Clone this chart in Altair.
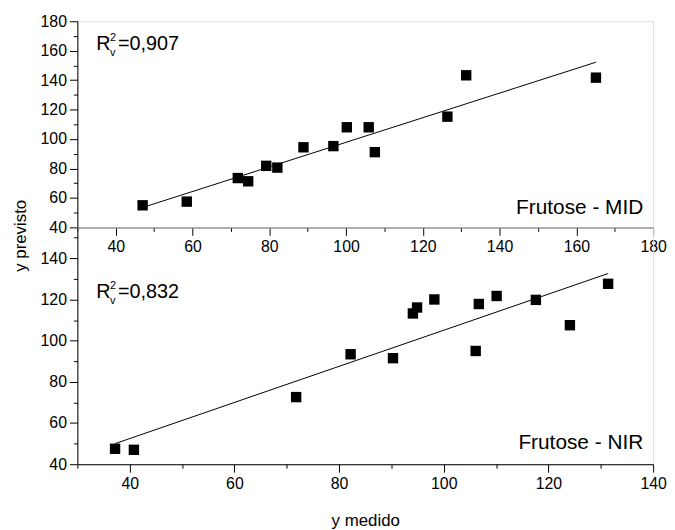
import altair as alt
import pandas as pd

# Frutose - MID (top panel)
mid_medido = [47, 58.5, 71.8, 74.5, 79.2, 82.1, 88.9, 96.7, 100.2, 105.9, 107.5, 126.4, 131.3, 165.1]
mid_previsto = [55, 57.5, 73.5, 71.3, 81.8, 80.6, 94.4, 95.2, 108, 108, 91.1, 115.2, 143.3, 141.7]
mid_fit_x = [47, 165.1]
mid_fit_y = [53.5, 152.2]

# Frutose - NIR (bottom panel)
nir_medido = [37.2, 40.8, 71.8, 82.2, 90.3, 94.1, 94.9, 98.2, 106.1, 106.7, 110.1, 117.6, 124.1, 131.4]
nir_previsto = [47.5, 47.0, 72.6, 93.4, 91.5, 113.2, 116.1, 120.0, 95.0, 117.8, 121.7, 119.8, 107.5, 127.6]
nir_fit_x = [37.2, 131.4]
nir_fit_y = [50.0, 132.6]

labels_panel = ["Frutose - MID", "Frutose - NIR"]
r2_values = ["=0,907", "=0,832"]

# tick values
top_x_major = [40, 60, 80, 100, 120, 140, 160, 180]
top_x_minor = [30, 50, 70, 90, 110, 130, 150, 170]
top_y_major = [40, 60, 80, 100, 120, 140, 160, 180]
top_y_minor = [50, 70, 90, 110, 130, 150, 170]
bot_x_major = [40, 60, 80, 100, 120, 140]
bot_x_minor = [30, 50, 70, 90, 110, 130]
bot_y_major = [40, 60, 80, 100, 120, 140]
bot_y_minor = [50, 70, 90, 110, 130, 150]

FONT = "Liberation Sans"
W = 581
H_TOP = 208
H_BOT = 239


def major_axis(values, orient, title=None, **kw):
    args = dict(values=values, orient=orient, tickSize=8, grid=False,
                labelFontSize=16, labelPadding=3, labelFont=FONT, tickColor="black",
                domainColor="black", labelColor="black", labelOverlap=False, labelFlush=False,
                titleFont=FONT, titleFontSize=17, titleFontWeight="normal", titleColor="black",
                title=title)
    args.update(kw)
    return alt.Axis(**args)


def minor_axis(values, orient):
    return alt.Axis(values=values, orient=orient, tickSize=4, grid=False, labels=False,
                    domain=False, tickColor="black", title=None)


def panel(xs, ys, fx, fy, xdom, ydom, h, label, r2, xmaj, xmin, ymaj, ymin,
          xtitle, ytitle, r_y, lab_y, xkw, ykw):
    pts = pd.DataFrame({"x": xs, "y": ys})
    fit = pd.DataFrame({"x": fx, "y": fy})
    xs_ = alt.Scale(domain=xdom, nice=False, zero=False)
    ys_ = alt.Scale(domain=ydom, nice=False, zero=False)
    points = alt.Chart(pts).mark_square(size=110, color="black", opacity=1).encode(
        x=alt.X("x:Q", scale=xs_, axis=major_axis(xmaj, "bottom", xtitle, **xkw)),
        y=alt.Y("y:Q", scale=ys_, axis=major_axis(ymaj, "left", ytitle, **ykw)),
    )
    minor = alt.Chart(pts).mark_point(opacity=0).encode(
        x=alt.X("x:Q", scale=xs_, axis=minor_axis(xmin, "bottom")),
        y=alt.Y("y:Q", scale=ys_, axis=minor_axis(ymin, "left")),
    )
    line = alt.Chart(fit).mark_line(color="black", strokeWidth=1).encode(
        x=alt.X("x:Q", scale=xs_, axis=None), y=alt.Y("y:Q", scale=ys_, axis=None)
    )
    base_t = alt.Chart(pd.DataFrame({"t": [label], "r": [r2]}))
    lab = base_t.mark_text(align="right", baseline="alphabetic", font=FONT, fontSize=21,
                           color="black").encode(text="t:N", x=alt.value(571), y=alt.value(lab_y))
    r = base_t.mark_text(align="left", baseline="alphabetic", font=FONT, fontSize=20,
                         color="black").encode(text=alt.value("R"), x=alt.value(19), y=alt.value(r_y))
    sup = base_t.mark_text(align="left", baseline="alphabetic", font=FONT, fontSize=11,
                           color="black").encode(text=alt.value("2"), x=alt.value(33), y=alt.value(r_y - 9))
    sub = base_t.mark_text(align="left", baseline="alphabetic", font=FONT, fontSize=11,
                           color="black").encode(text=alt.value("v"), x=alt.value(33), y=alt.value(r_y + 6))
    rv = base_t.mark_text(align="left", baseline="alphabetic", font=FONT, fontSize=20,
                          color="black").encode(text="r:N", x=alt.value(41), y=alt.value(r_y))
    return alt.layer(points, minor, line, lab, r, sup, rv, sub).resolve_axis(
        x="independent", y="independent"
    ).properties(width=W, height=h)


top = panel(mid_medido, mid_previsto, mid_fit_x, mid_fit_y, [30, 180], [40, 180],
            H_TOP, labels_panel[0], r2_values[0],
            top_x_major, top_x_minor, top_y_major, top_y_minor,
            None, "y previsto", 29, 194, {}, {"titleY": 216, "titlePadding": 11})

bottom = panel(nir_medido, nir_previsto, nir_fit_x, nir_fit_y, [30, 140], [40, 155],
               H_BOT, labels_panel[1], r2_values[1],
               bot_x_major, bot_x_minor, bot_y_major, bot_y_minor,
               "y medido", None, 71, 224, {"titlePadding": 22}, {})

chart = alt.vconcat(top, bottom, spacing=0, bounds="flush").resolve_scale(
    x="independent", y="independent"
).properties(
    padding={"left": 2, "top": 2, "right": 0, "bottom": 0}
).configure_view(stroke="black", strokeWidth=1).configure(background="white")

chart.save("out.html", embed_options={"renderer": "svg", "actions": False})
